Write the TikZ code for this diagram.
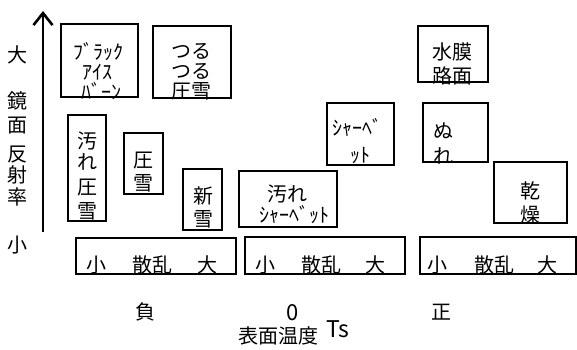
\documentclass[tikz,border=0pt]{standalone}
\usepackage{fontspec}
\setmainfont{Noto Sans CJK JP}
\usetikzlibrary{arrows.meta}
\begin{document}
\begin{tikzpicture}[x=1pt,y=-1pt,
  box/.style={draw,line width=1.1pt,inner sep=0pt},
  t/.style={font=\fontsize{20}{20}\selectfont,inner sep=0pt,text height=16pt,text depth=1pt}]
\useasboundingbox (0,0) rectangle (577,349);
% axis
\coordinate (ab) at (43,232);
\coordinate (at) at (43,11);
\draw[line width=2.6pt,-{Straight Barb[length=12pt,width=19pt]}] (ab) -- (at);
\node[t] (yl1) at (17.5,55) {大};
\node[t] (yl2) at (17.5,101) {鏡};
\node[t] (yl3) at (17.5,125) {面};
\node[t] (yl4) at (17.5,154) {反};
\node[t] (yl5) at (17.5,175) {射};
\node[t] (yl6) at (17.5,197) {率};
\node[t] (yl7) at (17.5,245) {小};
% boxes
\node[box,minimum width=77pt,minimum height=73pt] (bi) at (99.5,60.5) {};
\node[t] (bi1) at (98,52) {ﾌﾞﾗｯｸ};
\node[t] (bi2) at (97,72) {ｱｲｽ};
\node[t] (bi3) at (101,92) {ﾊﾞｰﾝ};
\node[box,minimum width=78pt,minimum height=72pt] (ts) at (192,62) {};
\node[t] (ts1) at (191,51) {つる};
\node[t] (ts2) at (191,71) {つる};
\node[t] (ts3) at (191,91) {圧雪};
\node[box,minimum width=70pt,minimum height=56pt] (wm) at (453,54) {};
\node[t] (wm1) at (452,52) {水膜};
\node[t] (wm2) at (452,76) {路面};
\node[box,minimum width=38pt,minimum height=106pt] (da) at (87,168) {};
\node[t] (da1) at (87,141) {汚};
\node[t] (da2) at (87,162) {れ};
\node[t] (da3) at (87,187) {圧};
\node[t] (da4) at (87,211) {雪};
\node[box,minimum width=39pt,minimum height=61pt] (as) at (143.5,163.5) {};
\node[t] (as1) at (143,160) {圧};
\node[t] (as2) at (143,183) {雪};
\node[box,minimum width=39pt,minimum height=61pt] (sn) at (202.5,199.5) {};
\node[t] (sn1) at (203,196) {新};
\node[t] (sn2) at (203,219) {雪};
\node[box,minimum width=67pt,minimum height=62pt] (sb) at (360.5,134) {};
\node[t] (sb1) at (357,128) {ｼｬｰﾍﾞ};
\node[t] (sb2) at (360,155) {ｯﾄ};
\node[box,minimum width=65pt,minimum height=59pt] (nu) at (455.5,132.5) {};
\node[t] (nu1) at (443,131) {ぬ};
\node[t] (nu2) at (443,156) {れ};
\node[box,minimum width=73pt,minimum height=61pt] (kn) at (530.5,192.5) {};
\node[t] (kn1) at (530,191) {乾};
\node[t] (kn2) at (530,215) {燥};
\node[box,minimum width=98pt,minimum height=56pt] (ds) at (288,199) {};
\node[t] (ds1) at (287,194) {汚れ};
\node[t] (ds2) at (294,215) {ｼｬｰﾍﾞｯﾄ};
% scatter boxes
\node[box,minimum width=160pt,minimum height=36pt] (s1) at (156,256) {};
\node[t] (s1a) at (96,265) {小};
\node[t] (s1b) at (152,265) {散乱};
\node[t] (s1c) at (207,265) {大};
\node[box,minimum width=160pt,minimum height=37pt] (s2) at (325,255.5) {};
\node[t] (s2a) at (265,265) {小};
\node[t] (s2b) at (321,265) {散乱};
\node[t] (s2c) at (375,265) {大};
\node[box,minimum width=156pt,minimum height=37pt] (s3) at (498,255.5) {};
\node[t] (s3a) at (437,265) {小};
\node[t] (s3b) at (494,265) {散乱};
\node[t] (s3c) at (547,265) {大};
% x labels
\node[t] (xl1) at (145,312) {負};
\node[t,font=\fontsize{22}{22}\selectfont] (xl2) at (293,313) {0};
\node[t] (xl3) at (441,312) {正};
\node[t] (xl4) at (278,336) {表面温度};
\node[t,font=\fontsize{23}{23}\selectfont] (xl5) at (338,330) {Ts};
\end{tikzpicture}
\end{document}
